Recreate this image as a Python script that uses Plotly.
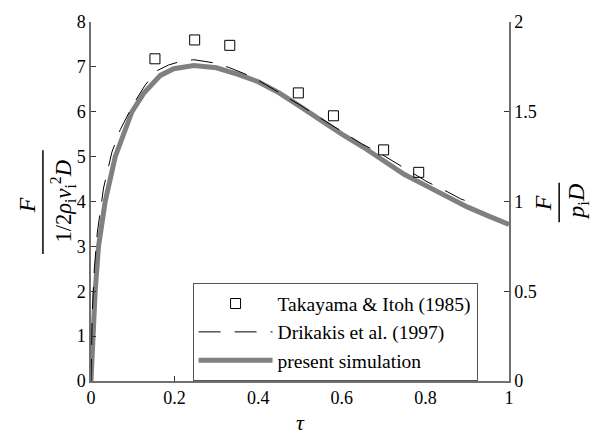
import plotly.graph_objects as go

# ---- data ----
tau_sim = [0, 0.002, 0.004, 0.010, 0.018, 0.034, 0.058, 0.075, 0.098, 0.126, 0.166, 0.198,
           0.246, 0.30, 0.35, 0.40, 0.45, 0.50, 0.55, 0.60, 0.65, 0.70, 0.75, 0.80, 0.85,
           0.90, 0.95, 1.0]
F_sim = [0, 0.5, 1.0, 2.0, 3.0, 4.0, 5.0, 5.45, 6.0, 6.41, 6.81, 6.96,
         7.03, 6.98, 6.84, 6.67, 6.42, 6.12, 5.80, 5.50, 5.22, 4.92, 4.60, 4.36, 4.12,
         3.88, 3.68, 3.49]

tau_drik = [0, 0.003, 0.008, 0.015, 0.03, 0.05, 0.07, 0.10, 0.13, 0.159, 0.185, 0.21,
            0.246, 0.30, 0.332, 0.385, 0.417, 0.465, 0.50, 0.54, 0.571, 0.617, 0.647,
            0.692, 0.727, 0.764, 0.804, 0.854, 0.884, 0.924]
F_drik = [0, 1.5, 2.5, 3.3, 4.3, 5.1, 5.6, 6.15, 6.6, 6.92, 7.04, 7.11,
          7.16, 7.08, 6.98, 6.78, 6.61, 6.35, 6.15, 5.91, 5.73, 5.47, 5.29,
          5.07, 4.87, 4.66, 4.44, 4.21, 4.06, 3.92]

tau_exp = [0.153, 0.248, 0.332, 0.496, 0.580, 0.700, 0.784]
F_exp = [7.18, 7.60, 7.48, 6.42, 5.91, 5.15, 4.65]

x_ticks = [0, 0.2, 0.4, 0.6, 0.8, 1]
y_ticks = [0, 1, 2, 3, 4, 5, 6, 7, 8]
y2_ticks = [0, 0.5, 1, 1.5, 2]

FONT = "Liberation Serif, Times New Roman, serif"
AXIS_GRAY = "#707070"

fig = go.Figure()
fig.add_trace(go.Scatter(x=tau_sim, y=F_sim, mode="lines", name="present simulation",
                         line=dict(color="#808080", width=5), legendrank=3))
fig.add_trace(go.Scatter(x=tau_drik, y=F_drik, mode="lines", name="Drikakis et al. (1997)",
                         line=dict(color="black", width=1, dash="22px,14px"), legendrank=2))
fig.add_trace(go.Scatter(x=tau_exp, y=F_exp, mode="markers", name="Takayama &amp; Itoh (1985)",
                         marker=dict(symbol="square-open", size=10, color="black",
                                     line=dict(width=1, color="black")), legendrank=1))
# invisible trace to activate right axis
fig.add_trace(go.Scatter(x=[0, 1], y=[0, 2], yaxis="y2", mode="lines",
                         line=dict(width=0), showlegend=False, hoverinfo="skip", opacity=0))

axis_common = dict(showgrid=False, zeroline=False, showline=True, linecolor=AXIS_GRAY,
                   linewidth=1.5, ticks="inside", ticklen=5, tickcolor="#333",
                   tickfont=dict(family=FONT, size=18, color="black"))

fig.update_layout(
    width=599, height=437,
    margin=dict(l=91, r=90, t=17, b=56),
    plot_bgcolor="white", paper_bgcolor="white",
    font=dict(family=FONT, color="black"),
    xaxis=dict(range=[0, 1], tickvals=x_ticks, **axis_common),
    yaxis=dict(range=[0, 8], tickvals=y_ticks, **axis_common),
    yaxis2=dict(range=[0, 2], tickvals=y2_ticks, overlaying="y", side="right",
                anchor="x", **axis_common),
    legend=dict(x=0.243, y=0.272, xanchor="left", yanchor="top",
                bgcolor="white", bordercolor="#555", borderwidth=1,
                font=dict(family=FONT, size=19.5, color="black"),
                itemwidth=74, tracegroupgap=0),
    showlegend=True,
)

# x-axis title
fig.add_annotation(text="<i>τ</i>", xref="paper", yref="paper", x=0.5, y=-0.115,
                   xanchor="center", yanchor="middle", showarrow=False,
                   font=dict(family=FONT, size=22))

# left y-axis title as a fraction
fig.add_annotation(text="<i>F</i>", xref="paper", yref="paper", x=-0.153, y=0.49,
                   textangle=-90, showarrow=False, xanchor="center", yanchor="middle",
                   font=dict(family=FONT, size=24))
fig.add_annotation(text="1/2<i>ρ</i><sub>i</sub><i>v</i><sub>i</sub><sup>2</sup><i>D</i>",
                   xref="paper", yref="paper", x=-0.067, y=0.5, textangle=-90,
                   showarrow=False, xanchor="center", yanchor="middle",
                   font=dict(family=FONT, size=22.5))
fig.add_shape(type="line", xref="paper", yref="paper", x0=-0.115, x1=-0.115,
              y0=0.354, y1=0.643, line=dict(color="black", width=1.5))

# right y-axis title as a fraction
fig.add_annotation(text="<i>F</i>", xref="paper", yref="paper", x=1.081, y=0.495,
                   textangle=-90, showarrow=False, xanchor="center", yanchor="middle",
                   font=dict(family=FONT, size=24))
fig.add_annotation(text="<i>p</i><sub>i</sub><i>D</i>", xref="paper", yref="paper",
                   x=1.163, y=0.5, textangle=-90, showarrow=False,
                   xanchor="center", yanchor="middle", font=dict(family=FONT, size=24))
fig.add_shape(type="line", xref="paper", yref="paper", x0=1.12, x1=1.12,
              y0=0.442, y1=0.552, line=dict(color="black", width=1.5))

fig.write_html("out.html")
